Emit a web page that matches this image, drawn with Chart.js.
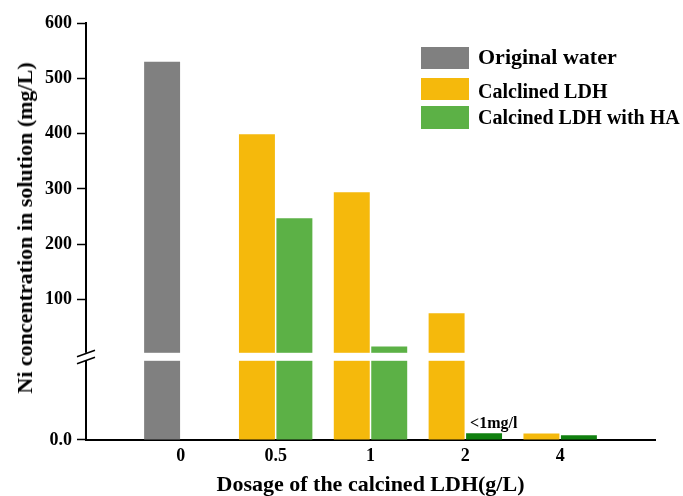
<!DOCTYPE html>
<html>
<head>
<meta charset="utf-8">
<script src="https://cdn.jsdelivr.net/npm/chart.js@4.4.1/dist/chart.umd.min.js"></script>
<style>
  body { margin: 0; background: #fff; }
  #wrap { position: relative; width: 683px; height: 496px; }
  .serif { font-family: 'Liberation Serif', 'Times New Roman', serif; font-weight: bold; color: #000; }
  #ytitle { position: absolute; left: 25px; top: 228px; font-size: 22px; white-space: nowrap;
    transform: translate(-50%, -50%) rotate(-90deg); }
  .box { position: absolute; left: 421px; width: 48px; }
  .txt { position: absolute; left: 478px; white-space: nowrap; }
</style>
</head>
<body>
<div id="wrap">
  <canvas id="chart" width="683" height="496"></canvas>
  <div id="ytitle" class="serif">Ni concentration in solution (mg/L)</div>
  <div class="box" style="top:47px;height:22px;background:#808080"></div>
  <div class="txt serif" style="top:46px;font-size:22px;line-height:22px">Original water</div>
  <div class="box" style="top:78px;height:22px;background:#f5b90c"></div>
  <div class="txt serif" style="top:81px;font-size:20px;line-height:20px">Calclined LDH</div>
  <div class="box" style="top:106px;height:23px;background:#5cb146"></div>
  <div class="txt serif" style="top:107px;font-size:20px;line-height:20px">Calcined LDH with HA</div>
</div>
<script>
// valori (mg/L)
const xLabels = ['0', '0.5', '1', '2', '4'];
const originalWater = [530, null, null, null, null];
const calcinedLDH = [null, 399, 294, 75, 0.75];
const calcinedLDHwithHA = [null, 247, 15, 0.8, 0.55];

// asse spezzato: parte bassa 0..LOW_MAX, parte alta 0..600
const LOW_MAX = 10;
const TOP_MAX = 600;

const GRAY = '#808080';
const ORANGE = '#f5b90c';
const GREEN = '#5cb146';
const DARK_GREEN = '#10800f';

const FONT = "'Liberation Serif', 'Times New Roman', serif";

// una categoria vuota ai due lati, come nell'originale
const pad = (arr) => [null, ...arr, null];
const lowerPart = (arr) => pad(arr).map((v) => (v == null ? null : Math.min(v, LOW_MAX)));
const upperPart = (arr) => pad(arr).map((v) => (v != null && v > LOW_MAX ? v : null));

const greenColors = pad(calcinedLDHwithHA).map((v) => (v != null && v < 1 ? DARK_GREEN : GREEN));

function makeSet(label, arr, color, stack) {
  return [
    { label: label, data: lowerPart(arr), backgroundColor: color, stack: stack, yAxisID: 'yBot' },
    { label: label, data: upperPart(arr), backgroundColor: color, stack: stack, yAxisID: 'yTop' },
  ];
}

const datasets = [
  ...makeSet('Original water', originalWater, GRAY, 'a'),
  ...makeSet('Calclined LDH', calcinedLDH, ORANGE, 'a'),
  ...makeSet('Calcined LDH with HA', calcinedLDHwithHA, greenColors, 'b'),
];
datasets.forEach((d) => {
  d.categoryPercentage = 0.79;
  d.barPercentage = 0.96;
});

// banda bianca della rottura, segni // e nota "<1mg/l"
const breakPlugin = {
  id: 'breakPlugin',
  afterDatasetsDraw(chart) {
    const { ctx, chartArea, scales } = chart;
    const yj = scales.yTop.bottom;
    const gTop = yj - 2;
    const gBot = yj + 6;
    ctx.save();
    ctx.fillStyle = '#fff';
    ctx.fillRect(chartArea.left - 3, gTop, chartArea.right - chartArea.left + 3, gBot - gTop);
    ctx.strokeStyle = '#000';
    ctx.lineWidth = 1.5;
    const x = chartArea.left;
    ctx.beginPath();
    ctx.moveTo(x - 9, gTop + 4);
    ctx.lineTo(x + 9, gTop - 2.5);
    ctx.moveTo(x - 9, gTop + 11);
    ctx.lineTo(x + 9, gTop + 4.5);
    ctx.stroke();

    const bar = chart.getDatasetMeta(4).data[4];
    ctx.fillStyle = '#000';
    ctx.font = 'bold 16px ' + FONT;
    ctx.textAlign = 'left';
    ctx.textBaseline = 'alphabetic';
    ctx.fillText('<1mg/l', bar.x - bar.width / 2 + 4, bar.y - 5);
    ctx.restore();
  },
};

const tickFont = { family: FONT, size: 18, weight: 'bold', lineHeight: 1 };

const yCommon = {
  type: 'linear',
  position: 'left',
  stack: 'v',
  stacked: false,
  grid: { drawOnChartArea: false, drawTicks: true, tickLength: 9, tickColor: '#000', tickWidth: 1.5 },
  border: { color: '#000', width: 2 },
};

new Chart(document.getElementById('chart'), {
  type: 'bar',
  data: { labels: ['', ...xLabels, ''], datasets: datasets },
  options: {
    responsive: false,
    animation: false,
    devicePixelRatio: 1,
    layout: { padding: { left: 40, right: 28, top: 23, bottom: 0 } },
    plugins: { legend: { display: false }, tooltip: { enabled: false } },
    scales: {
      x: {
        type: 'category',
        offset: false,
        grid: { drawOnChartArea: false, drawTicks: false },
        border: { color: '#000', width: 2 },
        ticks: { font: tickFont, color: '#000', padding: 7, autoSkip: false, maxRotation: 0 },
        title: {
          display: true,
          text: 'Dosage of the calcined LDH(g/L)',
          font: { family: FONT, size: 22, weight: 'bold', lineHeight: 1 },
          color: '#000',
          padding: { top: 2, bottom: 0 },
        },
      },
      yBot: {
        ...yCommon,
        stackWeight: 85,
        min: 0,
        max: LOW_MAX,
        ticks: {
          stepSize: LOW_MAX,
          font: tickFont,
          color: '#000',
          padding: 5,
          callback: (v) => (v === 0 ? '0.0' : null),
        },
      },
      yTop: {
        ...yCommon,
        stackWeight: 331,
        min: 0,
        max: TOP_MAX,
        ticks: {
          stepSize: 100,
          font: tickFont,
          color: '#000',
          padding: 5,
          callback: (v) => (v === 0 ? null : v),
        },
      },
    },
  },
  plugins: [breakPlugin],
});
</script>
</body>
</html>
